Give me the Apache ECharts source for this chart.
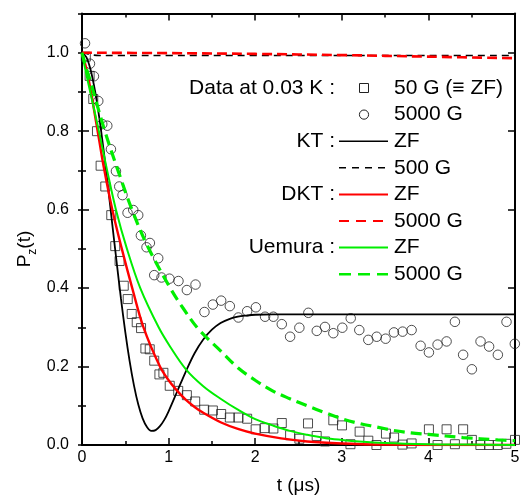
<!DOCTYPE html>
<html>
<head>
<meta charset="utf-8">
<script src="https://cdn.jsdelivr.net/npm/echarts@6/dist/echarts.min.js"></script>
<style>html,body{margin:0;padding:0;background:#fff}#c{width:523px;height:500px}</style>
</head>
<body>
<div id="c"></div>
<script>
// ---- data (t in microseconds, P_z) ----
const squareT = [0.044,0.088,0.13,0.173,0.215,0.269,0.338,0.384,0.434,0.482,0.528,0.574,0.632,0.682,0.732,0.782,0.834,0.894,0.94,1.013,1.111,1.211,1.307,1.411,1.511,1.607,1.707,1.806,1.907,2.005,2.11,2.21,2.307,2.403,2.51,2.61,2.71,2.806,2.902,3.002,3.10,3.206,3.306,3.40,3.51,3.604,3.70,3.806,3.91,4.006,4.106,4.21,4.306,4.401,4.502,4.60,4.70,4.80,4.90,5.0];
const squareP = [0.99,0.941,0.882,0.80,0.712,0.659,0.586,0.507,0.469,0.406,0.372,0.334,0.313,0.298,0.246,0.244,0.215,0.180,0.184,0.151,0.138,0.127,0.111,0.090,0.088,0.079,0.070,0.070,0.067,0.040,0.043,0.042,0.056,0.025,0.016,0.055,0.023,0.009,0.063,0.050,0.002,0.034,0.011,0.0,0.029,0.019,0.001,0.004,-0.002,0.040,0.0,0.040,0.002,0.040,0.013,0.0,0.0,0.0,0.003,0.013];
const circleT = [0.035,0.092,0.138,0.188,0.234,0.292,0.334,0.392,0.430,0.468,0.526,0.592,0.649,0.680,0.745,0.784,0.834,0.880,0.918,1.01,1.114,1.211,1.311,1.414,1.511,1.607,1.707,1.806,1.907,2.008,2.114,2.21,2.307,2.403,2.51,2.614,2.711,2.806,2.902,3.006,3.103,3.202,3.306,3.403,3.506,3.602,3.702,3.806,3.910,4.006,4.106,4.21,4.306,4.401,4.502,4.602,4.701,4.802,4.902,4.998];
const circleP = [1.024,0.972,0.940,0.877,0.818,0.814,0.754,0.698,0.659,0.637,0.592,0.599,0.586,0.534,0.504,0.515,0.433,0.476,0.427,0.424,0.418,0.395,0.409,0.339,0.358,0.368,0.354,0.325,0.341,0.351,0.327,0.327,0.308,0.276,0.299,0.337,0.291,0.301,0.285,0.299,0.323,0.293,0.268,0.276,0.271,0.287,0.289,0.293,0.253,0.236,0.256,0.264,0.314,0.230,0.193,0.264,0.251,0.230,0.314,0.258];

const ktZfT = [0,0.05,0.1,0.15,0.2,0.25,0.3,0.35,0.4,0.45,0.5,0.55,0.6,0.65,0.7,0.75,0.8,0.85,0.9,0.95,1.0,1.1,1.2,1.3,1.4,1.5,1.6,1.7,1.8,1.9,2.0,2.2,2.5,3,4,5];
const ktZfP = [1.0,0.989,0.956,0.903,0.834,0.751,0.659,0.562,0.466,0.373,0.288,0.214,0.152,0.103,0.068,0.046,0.036,0.038,0.048,0.064,0.086,0.137,0.188,0.234,0.269,0.294,0.311,0.321,0.327,0.330,0.332,0.333,0.333,0.333,0.333,0.333];
const kt500T = [0,0.05,0.1,0.2,0.4,1,2,3,4,5];
const kt500P = [1.0,0.998,0.995,0.993,0.993,0.993,0.993,0.993,0.993,0.993];
const dktZfT = [0,0.05,0.1,0.15,0.2,0.25,0.35,0.46,0.58,0.71,0.9,1.0,1.1,1.2,1.3,1.4,1.6,1.8,2.0,2.3,2.6,3.0,3.5,4.0,5.0];
const dktZfP = [1.0,0.96,0.905,0.84,0.775,0.71,0.6,0.5,0.4,0.3,0.2,0.165,0.138,0.115,0.097,0.082,0.058,0.041,0.029,0.017,0.009,0.004,0.001,0.0,0.0];
const dkt5000T = [0,1,2,3,4,5];
const dkt5000P = [1.0,0.999,0.997,0.994,0.990,0.986];
const uemZfT = [0,0.05,0.1,0.2,0.29,0.392,0.519,0.673,0.885,1.02,1.2,1.4,1.6,1.8,2.0,2.2,2.4,2.6,2.8,3.0,3.2,3.5,4.0,4.5,5.0];
const uemZfP = [1.0,0.945,0.895,0.795,0.7,0.6,0.5,0.4,0.3,0.25,0.193,0.15,0.118,0.09,0.066,0.05,0.036,0.026,0.018,0.013,0.009,0.005,0.002,0.001,0.0];
const uem5000T = [0,0.05,0.1,0.25,0.423,0.577,0.75,1.019,1.17,1.346,1.6,1.8,2.0,2.2,2.4,2.6,2.8,3.0,3.2,3.4,3.6,3.8,4.0,4.4,4.8,5.0];
const uem5000P = [1.0,0.96,0.925,0.81,0.695,0.6,0.51,0.4,0.348,0.295,0.24,0.197,0.165,0.138,0.118,0.1,0.083,0.067,0.055,0.046,0.037,0.031,0.027,0.019,0.013,0.011];

const xTicks = [0,1,2,3,4,5];
const yTicks = [0.0,0.2,0.4,0.6,0.8,1.0];

const legendRows = [
  {label:'Data at 0.03 K :', mark:'square', text:'50 G (\u2261 ZF)'},
  {label:'', mark:'circle', text:'5000 G'},
  {label:'KT :', mark:'line', color:'#000', dash:null, width:1.6, text:'ZF'},
  {label:'', mark:'line', color:'#000', dash:[7,6], width:1.6, text:'500 G'},
  {label:'DKT :', mark:'line', color:'#ff0000', dash:null, width:2, text:'ZF'},
  {label:'', mark:'line', color:'#ff0000', dash:[10,7], width:2, text:'5000 G'},
  {label:'Uemura :', mark:'line', color:'#00ee00', dash:null, width:2, text:'ZF'},
  {label:'', mark:'line', color:'#00ee00', dash:[12,7], width:2.4, text:'5000 G'}
];

const zip = (a,b) => a.map((v,i)=>[v,b[i]]);
const FONT = 'Liberation Sans, Arial, Helvetica, sans-serif';

const chart = echarts.init(document.getElementById('c'), null, {renderer:'canvas'});

const lineSeries = (name, T, P, color, width, dash) => ({
  name, type:'line', data: zip(T,P), showSymbol:false, symbol:'none',
  smooth:0.35, xAxisIndex:0, yAxisIndex:0,
  lineStyle:{color, width, type: dash ? dash : 'solid'}, z:3
});

// legend graphics
const gr = [];
const rowY0 = 88, rowDy = 26.6;
legendRows.forEach((r,i)=>{
  const y = rowY0 + i*rowDy;
  if (r.label) gr.push({type:'text', x:335, y:y, style:{text:r.label, fontSize:21, fontFamily:FONT, fill:'#000', align:'right', verticalAlign:'middle', textAlign:'right', textVerticalAlign:'middle'}});
  gr.push({type:'text', x:394, y:y, style:{text:r.text, fontSize:21, fontFamily:FONT, fill:'#000', align:'left', verticalAlign:'middle', textAlign:'left', textVerticalAlign:'middle'}});
  if (r.mark==='square') gr.push({type:'rect', shape:{x:359.5,y:y-4.5,width:9,height:9}, style:{fill:'none', stroke:'#222', lineWidth:1}});
  if (r.mark==='circle') gr.push({type:'circle', shape:{cx:364,cy:y,r:4.6}, style:{fill:'none', stroke:'#222', lineWidth:1}});
  if (r.mark==='line') gr.push({type:'line', shape:{x1:339,y1:y,x2:388,y2:y}, style:{stroke:r.color, lineWidth:r.width, lineDash:r.dash||null}});
});
// y axis title P_z(t)
gr.push({type:'text', x:23, y:249, rotation:Math.PI/2, style:{text:'{a|P}{b|z}{a|(t)}', fontFamily:FONT, fill:'#000', align:'center', verticalAlign:'middle', textAlign:'center', textVerticalAlign:'middle',
  rich:{a:{fontSize:19, fontFamily:FONT, lineHeight:22, verticalAlign:'bottom'}, b:{fontSize:12, fontFamily:FONT, lineHeight:22, verticalAlign:'bottom', padding:[0,0,-5,0]}}}});

const axisCommon = {
  type:'value', axisLine:{show:true, onZero:false, lineStyle:{color:'#000', width:2}},
  splitLine:{show:false}, axisTick:{show:true, inside:true, length:7, lineStyle:{color:'#000', width:1.5}}
};

const option = {
  animation:false,
  backgroundColor:'#fff',
  grid:{left:82, right:8, top:13.5, bottom:48, containLabel:false},
  xAxis:[
    Object.assign({}, axisCommon, {position:'bottom', min:0, max:5, interval:1,
      minorTick:{show:true, splitNumber:2, length:4, lineStyle:{color:'#000', width:1.5}},
      axisLabel:{show:true, margin:5, fontSize:16, fontFamily:FONT, color:'#000', formatter:v=> xTicks.includes(v)? String(v):''},
      name:'t (\u03bcs)', nameLocation:'middle', nameGap:31, nameTextStyle:{fontSize:19, fontFamily:FONT, color:'#000'}}),
    Object.assign({}, axisCommon, {position:'top', min:0, max:5, interval:1,
      minorTick:{show:true, splitNumber:2, length:4, lineStyle:{color:'#000', width:1.5}},
      axisLabel:{show:false}})
  ],
  yAxis:[
    Object.assign({}, axisCommon, {position:'left', min:0, max:1.1, interval:0.2,
      axisLabel:{show:true, margin:13, fontSize:16, fontFamily:FONT, color:'#000', showMaxLabel:false,
        formatter:v=> yTicks.some(t=>Math.abs(t-v)<1e-6) ? v.toFixed(1) : ''}}),
    Object.assign({}, axisCommon, {position:'left', min:0, max:1.1, interval:0.1, axisLine:{show:false},
      axisTick:{show:true, inside:true, length:4, lineStyle:{color:'#000', width:1.5}}, axisLabel:{show:false}}),
    Object.assign({}, axisCommon, {position:'right', min:0, max:1.1, interval:0.2, axisLabel:{show:false}}),
    Object.assign({}, axisCommon, {position:'right', min:0, max:1.1, interval:0.1, axisLine:{show:false},
      axisTick:{show:true, inside:true, length:4, lineStyle:{color:'#000', width:1.5}}, axisLabel:{show:false}})
  ],
  series:[
    {name:'50 G', type:'scatter', data:zip(squareT,squareP), symbol:'rect', symbolSize:9, xAxisIndex:0, yAxisIndex:0,
      itemStyle:{color:'rgba(0,0,0,0)', borderColor:'#222', borderWidth:1}, z:2},
    {name:'5000 G', type:'scatter', data:zip(circleT,circleP), symbol:'circle', symbolSize:9.5, xAxisIndex:0, yAxisIndex:0,
      itemStyle:{color:'rgba(0,0,0,0)', borderColor:'#222', borderWidth:1}, z:2},
    lineSeries('KT ZF', ktZfT, ktZfP, '#000', 1.8, null),
    lineSeries('KT 500 G', kt500T, kt500P, '#000', 1.6, [7,5]),
    lineSeries('DKT ZF', dktZfT, dktZfP, '#ff0000', 2.4, null),
    lineSeries('DKT 5000 G', dkt5000T, dkt5000P, '#ff0000', 2.6, [10,5]),
    lineSeries('Uemura ZF', uemZfT, uemZfP, '#00ee00', 2.0, null),
    lineSeries('Uemura 5000 G', uem5000T, uem5000P, '#00ee00', 3.2, [11,6])
  ],
  graphic:{elements:gr}
};
chart.setOption(option);
</script>
</body>
</html>
